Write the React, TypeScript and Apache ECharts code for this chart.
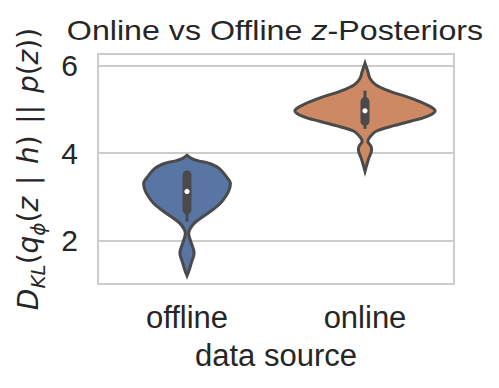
import React, { useEffect, useRef } from "react";
import * as echarts from "echarts";

const categories = ["offline", "online"];

// density profile of each violin: levels (KL values) and relative half-widths
const offlineLevels = [3.95, 3.88, 3.82, 3.77, 3.65, 3.38, 3.31, 3.15, 3.0, 2.85, 2.7, 2.54, 2.39, 2.24, 2.13, 1.94, 1.71, 1.48, 1.29, 1.19];
const offlineDensity = [0, 0.06, 0.16, 0.3, 0.45, 0.59, 0.61, 0.59, 0.54, 0.47, 0.36, 0.22, 0.1, 0.035, 0.025, 0.06, 0.1, 0.06, 0.025, 0];
const onlineLevels = [6.06, 5.87, 5.71, 5.56, 5.41, 5.26, 5.1, 4.97, 4.84, 4.73, 4.61, 4.5, 4.38, 4.27, 4.15, 4.04, 3.89, 3.73, 3.58];
const onlineDensity = [0, 0.04, 0.07, 0.155, 0.36, 0.64, 0.875, 0.985, 0.875, 0.64, 0.36, 0.155, 0.075, 0.04, 0.085, 0.09, 0.055, 0.025, 0];

// inner box statistics per category
const whiskerLow = [2.43, 4.555];
const quartile1 = [2.7, 4.725];
const medians = [3.12, 4.967];
const quartile3 = [3.5, 5.18];
const whiskerHigh = [3.52, 5.43];

const yTicks = [2, 4, 6];

const fillColors = ["#5975a4", "#cc8963"];
const lineColor = "#4a4a4a";
const textColor = "#262626";
const font = "Liberation Sans, Arial, sans-serif";

const violinLevels = [offlineLevels, onlineLevels];
const violinDensity = [offlineDensity, onlineDensity];

export default function App() {
  const ref = useRef<HTMLDivElement>(null);
  useEffect(() => {
    if (!ref.current) return;
    const chart = echarts.init(ref.current, null, { renderer: "svg" });
    const option: any = {
      animation: false,
      backgroundColor: "#ffffff",
      textStyle: { fontFamily: font },
      grid: {
        left: 98,
        right: 45,
        top: 54,
        bottom: 104,
        show: true,
        borderColor: "#cccccc",
        borderWidth: 2,
        containLabel: false,
      },
      graphic: [
        {
          type: "text",
          x: 275,
          y: 30,
          scaleX: 1.13,
          style: {
            text: "{n|Online vs Offline }{i|z}{n|-Posteriors}",
            align: "center",
            verticalAlign: "middle",
            rich: {
              n: { fontSize: 28.5, fontFamily: font, fill: textColor, color: textColor },
              i: { fontSize: 28.5, fontFamily: font, fontStyle: "italic", fill: textColor, color: textColor },
            },
          },
        },
      ],
      xAxis: {
        type: "category",
        data: categories,
        boundaryGap: true,
        axisLine: { show: false },
        axisTick: { show: false },
        splitLine: { show: false },
        axisLabel: { fontSize: 31, color: textColor, margin: 18, fontFamily: font },
        name: "data source",
        nameLocation: "middle",
        nameGap: 56,
        nameTextStyle: { fontSize: 31, color: textColor, fontFamily: font },
      },
      yAxis: {
        type: "value",
        min: 1.0,
        max: 6.27,
        axisLine: { show: false },
        axisTick: { show: false, customValues: yTicks },
        axisLabel: { customValues: yTicks, fontSize: 30, color: textColor, margin: 20, fontFamily: font },
        splitLine: { show: true, lineStyle: { color: "#cccccc", width: 2 } },
        name:
          "{i|D}{s|KL}{n|(}{i|q}{s|ϕ}{n|(}{i|z}{n| \u200a|\u200a }{i|h}{n|) \u200a||\u200a }{i|p}{n|(}{i|z}{n|))}",
        nameLocation: "middle",
        nameGap: 50,
        nameRotate: 90,
        nameTextStyle: {
          color: textColor,
          rich: {
            n: { fontSize: 28, fontFamily: "DejaVu Sans", color: textColor },
            i: { fontSize: 28, fontFamily: "DejaVu Sans", fontStyle: "italic", color: textColor },
            s: { fontSize: 20, fontFamily: "DejaVu Sans", fontStyle: "italic", color: textColor, verticalAlign: "bottom", lineHeight: 40 },
          },
        },
      },
      series: [
        {
          type: "custom",
          data: [0, 1],
          encode: { x: 0 },
          renderItem: (params: any, api: any) => {
            const i = params.dataIndex;
            const levels = violinLevels[i];
            const dens = violinDensity[i];
            const band = api.size([1, 0])[0];
            const maxHalf = band * 0.4;
            const right: number[][] = [];
            const left: number[][] = [];
            levels.forEach((v, k) => {
              const p = api.coord([i, v]);
              right.push([p[0] + dens[k] * maxHalf, p[1]]);
              left.push([p[0] - dens[k] * maxHalf, p[1]]);
            });
            const points = right.concat(left.reverse());
            const cx = api.coord([i, medians[i]])[0];
            const yLo = api.coord([i, whiskerLow[i]])[1];
            const yHi = api.coord([i, whiskerHigh[i]])[1];
            const yQ1 = api.coord([i, quartile1[i]])[1];
            const yQ3 = api.coord([i, quartile3[i]])[1];
            const yMed = api.coord([i, medians[i]])[1];
            return {
              type: "group",
              children: [
                {
                  type: "polygon",
                  shape: { points, smooth: 0.35 },
                  style: { fill: fillColors[i], stroke: lineColor, lineWidth: 3 },
                },
                {
                  type: "line",
                  shape: { x1: cx, y1: yLo, x2: cx, y2: yHi },
                  style: { stroke: lineColor, lineWidth: 3 },
                },
                {
                  type: "line",
                  shape: { x1: cx, y1: yQ1, x2: cx, y2: yQ3 },
                  style: { stroke: lineColor, lineWidth: 9, lineCap: "round" },
                },
                {
                  type: "circle",
                  shape: { cx, cy: yMed, r: 2.6 },
                  style: { fill: "#ffffff" },
                },
              ],
            };
          },
        },
      ],
    };
    chart.setOption(option);
    return () => chart.dispose();
  }, []);
  return (
    <div
      ref={ref}
      style={{ position: "fixed", left: 0, top: 0, width: 499, height: 388, background: "#fff" }}
    />
  );
}
